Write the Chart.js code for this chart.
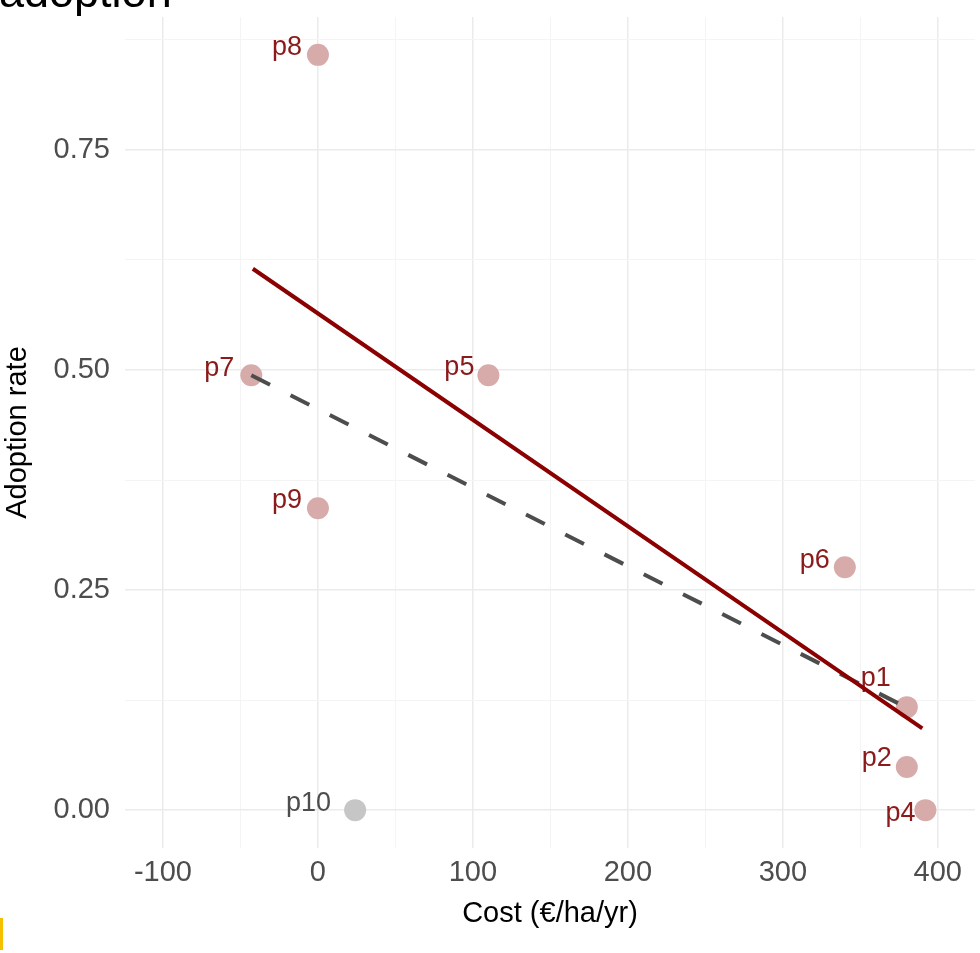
<!DOCTYPE html>
<html>
<head>
<meta charset="utf-8">
<title>Adoption rate vs cost</title>
<script src="https://cdn.jsdelivr.net/npm/chart.js@4.4.1/dist/chart.umd.min.js"></script>
<style>
  html, body { margin: 0; padding: 0; background: #fff; }
  #wrap { position: relative; width: 980px; height: 953px; overflow: hidden; }
  #title {
    position: absolute; left: -1px; top: -31px;
    font: 45px/45px "Liberation Sans", Arial, sans-serif; color: #000;
    white-space: nowrap;
  }
  #mark { position: absolute; left: 0; top: 918px; width: 3px; height: 32px; background: #f5c000; }
  canvas { position: absolute; left: 0; top: 0; }
</style>
</head>
<body>
<div id="wrap">
  <canvas id="chart" width="980" height="953"></canvas>
  <div id="title">adoption</div>
  <div id="mark"></div>
</div>
<script>
// Practices: cost vs observed adoption
const practices = ['p1', 'p2', 'p4', 'p5', 'p6', 'p7', 'p8', 'p9', 'p10'];
const costs     = [380, 380, 392, 110, 340, -43, 0, 0, 24];
const adoption  = [0.117, 0.049, 0, 0.494, 0.276, 0.494, 0.858, 0.343, 0];

// Fitted lines (end points)
const fitCost     = [-42, 390];
const fitAdoption = [0.615, 0.093];
const refCost     = [-43, 376];
const refAdoption = [0.494, 0.120];

// Tick labels (major), grid also has minor lines half way
const xTickValues = [-100, 0, 100, 200, 300, 400];
const xTickLabels = ['-100', '0', '100', '200', '300', '400'];
const yTickValues = [0, 0.25, 0.5, 0.75];
const yTickLabels = ['0.00', '0.25', '0.50', '0.75'];

const FONT = '"Liberation Sans", Arial, sans-serif';
const pointColor = name => name === 'p10' ? '#c6c6c6' : '#d8abab';
const labelColor = name => name === 'p10' ? '#4d4d4d' : '#8b1a1a';

// pixel nudges for the point labels (right edge / vertical centre)
const nudge = {
  p1: [-16, -29], p2: [-15, -8], p4: [-10, 3], p5: [-14, -8], p6: [-15, -7],
  p7: [-17, -7], p8: [-16, -7], p9: [-16, -8], p10: [-24, -7],
};

const toXY = (xs, ys) => xs.map((x, i) => ({ x, y: ys[i] }));

// major ticks plus a minor one between each pair (and one above the last y)
function withMinor(major, extraTop) {
  const out = [];
  major.forEach((v, i) => {
    out.push({ value: v, major: true });
    const next = major[i + 1];
    if (next !== undefined) out.push({ value: (v + next) / 2 });
    else if (extraTop) out.push({ value: v + (v - major[i - 1]) / 2 });
  });
  return out;
}

const pointLabels = {
  id: 'pointLabels',
  afterDatasetDraw(chart, args) {
    if (args.index !== 2) return;
    const { ctx } = chart;
    const meta = chart.getDatasetMeta(2);
    ctx.save();
    ctx.font = '27px ' + FONT;
    ctx.textAlign = 'right';
    ctx.textBaseline = 'middle';
    meta.data.forEach((pt, i) => {
      const name = practices[i];
      const [dx, dy] = nudge[name];
      ctx.fillStyle = labelColor(name);
      ctx.fillText(name, pt.x + dx, pt.y + dy);
    });
    ctx.restore();
  },
};

const gridStyle = {
  drawTicks: false,
  color: c => c.tick && c.tick.major ? '#ebebeb' : '#f4f4f4',
  lineWidth: c => c.tick && c.tick.major ? 1.5 : 1,
};

new Chart(document.getElementById('chart'), {
  type: 'scatter',
  data: {
    datasets: [
      {
        data: toXY(fitCost, fitAdoption),
        showLine: true,
        borderColor: '#8b0000',
        borderWidth: 4,
        pointRadius: 0,
      },
      {
        data: toXY(refCost, refAdoption),
        showLine: true,
        borderColor: '#4d4d4d',
        borderWidth: 4,
        borderDash: [21, 23],
        pointRadius: 0,
      },
      {
        data: toXY(costs, adoption),
        backgroundColor: practices.map(pointColor),
        borderWidth: 0,
        pointRadius: 11,
        pointHoverRadius: 11,
      },
    ],
  },
  options: {
    responsive: false,
    animation: false,
    layout: { autoPadding: false, padding: { top: 17, right: 5, left: 0, bottom: 0 } },
    plugins: { legend: { display: false }, tooltip: { enabled: false } },
    scales: {
      x: {
        type: 'linear',
        min: -124.5,
        max: 424,
        border: { display: false },
        grid: gridStyle,
        afterBuildTicks: s => { s.ticks = withMinor(xTickValues, false); },
        ticks: {
          autoSkip: false,
          maxRotation: 0,
          padding: 8,
          color: '#4d4d4d',
          font: { family: FONT, size: 29 },
          callback: v => {
            const i = xTickValues.indexOf(v);
            return i >= 0 ? xTickLabels[i] : '';
          },
        },
        title: {
          display: true,
          text: 'Cost (€/ha/yr)',
          color: '#000',
          font: { family: FONT, size: 29 },
          padding: { top: 0, bottom: 22 },
        },
        afterFit: s => {
          s.height = 105;
          s.paddingLeft = 0;
          s.paddingRight = 0;
        },
      },
      y: {
        min: -0.043,
        max: 0.901,
        border: { display: false },
        grid: gridStyle,
        afterBuildTicks: s => { s.ticks = withMinor(yTickValues, true); },
        ticks: {
          autoSkip: false,
          padding: 15,
          color: '#4d4d4d',
          font: { family: FONT, size: 29 },
          callback: v => {
            const i = yTickValues.indexOf(v);
            return i >= 0 ? yTickLabels[i] : '';
          },
        },
        title: {
          display: true,
          text: 'Adoption rate',
          color: '#000',
          font: { family: FONT, size: 29 },
          padding: { top: 1, bottom: 0 },
        },
        afterFit: s => {
          s.width = 125;
          s.paddingTop = 0;
          s.paddingBottom = 0;
        },
      },
    },
  },
  plugins: [pointLabels],
});
</script>
</body>
</html>
